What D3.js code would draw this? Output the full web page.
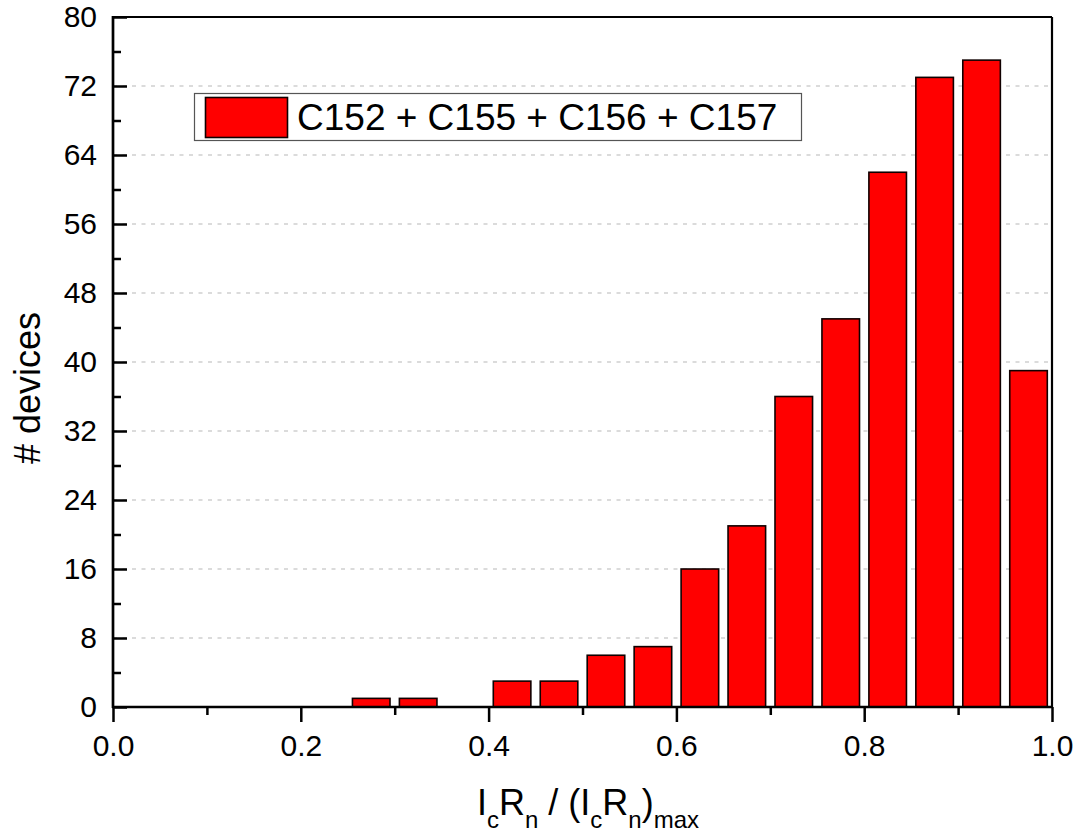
<!DOCTYPE html>
<html>
<head>
<meta charset="utf-8">
<script src="https://cdn.jsdelivr.net/npm/d3@7"></script>
<style>
  html, body { margin: 0; padding: 0; background: #fff; }
  svg { display: block; }
  text { font-family: "Liberation Sans", Arial, sans-serif; fill: #000; }
</style>
</head>
<body>
<svg id="chart" width="1078" height="834"></svg>
<script>
// Histogram bins (lower edges) and device counts per bin
const binWidth = 0.05;
const binLower = [0.00, 0.05, 0.10, 0.15, 0.20, 0.25, 0.30, 0.35, 0.40, 0.45,
                  0.50, 0.55, 0.60, 0.65, 0.70, 0.75, 0.80, 0.85, 0.90, 0.95];
const counts   = [0, 0, 0, 0, 0, 1, 1, 0, 3, 3,
                  6, 7, 16, 21, 36, 45, 62, 73, 75, 39];
const xMajorTicks = [0.0, 0.2, 0.4, 0.6, 0.8, 1.0];
const xMinorTicks = [0.1, 0.3, 0.5, 0.7, 0.9];
const yMajorTicks = [0, 8, 16, 24, 32, 40, 48, 56, 64, 72, 80];
const yMinorTicks = [4, 12, 20, 28, 36, 44, 52, 60, 68, 76];
const seriesName = "C152 + C155 + C156 + C157";

const svg = d3.select("#chart");
const plotL = 113, plotR = 1052, plotT = 17, plotB = 707;

const x = d3.scaleLinear().domain([0, 1]).range([plotL, plotR]);
const y = d3.scaleLinear().domain([0, 80]).range([plotB, plotT]);

// dashed horizontal grid
svg.append("g").selectAll("line")
  .data(yMajorTicks.filter(v => v > 0 && v < 80))
  .join("line")
  .attr("x1", plotL).attr("x2", plotR)
  .attr("y1", d => y(d)).attr("y2", d => y(d))
  .attr("stroke", "#cfcfcf").attr("stroke-width", 1.3)
  .attr("stroke-dasharray", "4,5.5");

// bars
const bins = binLower.map((lo, i) => ({ lo, n: counts[i] })).filter(d => d.n > 0);
svg.append("g").selectAll("rect")
  .data(bins)
  .join("rect")
  .attr("x", d => x(d.lo + binWidth * 0.1))
  .attr("width", d => x(d.lo + binWidth * 0.9) - x(d.lo + binWidth * 0.1))
  .attr("y", d => y(d.n))
  .attr("height", d => y(0) - y(d.n))
  .attr("fill", "#ff0000")
  .attr("stroke", "#100000").attr("stroke-width", 1.6);

// axes
const tickFont = g => g.selectAll("text").style("font-size", "30px")
  .style("font-family", '"Liberation Sans", Arial, sans-serif').attr("fill", "#000");
const tickLines = (g, w) => g.selectAll("line").attr("stroke", "#000").attr("stroke-width", w);

const xAxis = svg.append("g").attr("transform", `translate(0,${plotB})`)
  .call(d3.axisBottom(x).tickValues(xMajorTicks).tickFormat(d3.format(".1f"))
    .tickSize(15).tickSizeOuter(0).tickPadding(13));
xAxis.select(".domain").remove();
xAxis.call(tickFont).call(g => tickLines(g, 2.5));

const xAxisMinor = svg.append("g").attr("transform", `translate(0,${plotB})`)
  .call(d3.axisBottom(x).tickValues(xMinorTicks).tickFormat("").tickSize(8).tickSizeOuter(0));
xAxisMinor.select(".domain").remove();
xAxisMinor.call(g => tickLines(g, 2.5));

const yAxis = svg.append("g").attr("transform", `translate(${plotL},0)`)
  .call(d3.axisLeft(y).tickValues(yMajorTicks).tickSize(-14).tickSizeOuter(0).tickPadding(16));
yAxis.select(".domain").remove();
yAxis.call(tickFont).call(g => tickLines(g, 2.5));

const yAxisMinor = svg.append("g").attr("transform", `translate(${plotL},0)`)
  .call(d3.axisLeft(y).tickValues(yMinorTicks).tickFormat("").tickSize(-8).tickSizeOuter(0));
yAxisMinor.select(".domain").remove();
yAxisMinor.call(g => tickLines(g, 2.5));

// frame
const frame = svg.append("g").attr("stroke", "#000").attr("fill", "none");
frame.append("line").attr("x1", plotL).attr("x2", plotR).attr("y1", plotT).attr("y2", plotT).attr("stroke-width", 2.2);
frame.append("line").attr("x1", plotR).attr("x2", plotR).attr("y1", plotT).attr("y2", plotB).attr("stroke-width", 2.2);
frame.append("line").attr("x1", plotL).attr("x2", plotL).attr("y1", plotT - 1).attr("y2", plotB + 1).attr("stroke-width", 2.7);
frame.append("line").attr("x1", plotL - 1).attr("x2", plotR + 1).attr("y1", plotB).attr("y2", plotB).attr("stroke-width", 2.7);

// legend
const legend = svg.append("g");
legend.append("rect").attr("x", 194.5).attr("y", 93.5).attr("width", 607).attr("height", 47)
  .attr("fill", "#fff").attr("stroke", "#555").attr("stroke-width", 1.2);
legend.append("rect").attr("x", 205.5).attr("y", 97.5).attr("width", 82).attr("height", 40)
  .attr("fill", "#ff0000").attr("stroke", "#100000").attr("stroke-width", 1.6);
legend.append("text").attr("x", 297).attr("y", 130)
  .style("font-size", "37px").text(seriesName);

// axis titles
svg.append("text")
  .attr("transform", "translate(40,388) rotate(-90)")
  .attr("text-anchor", "middle")
  .style("font-size", "36px")
  .text("# devices");

const xt = svg.append("text").attr("x", 588).attr("y", 815)
  .attr("text-anchor", "middle").style("font-size", "36px");
const parts = [["I", 0], ["c", 1], ["R", 0], ["n", 1], [" / (I", 0], ["c", 1], ["R", 0], ["n", 1], [")", 0], ["max", 1]];
let prevSub = 0;
parts.forEach(([t, sub]) => {
  const ts = xt.append("tspan").text(t);
  if (sub) ts.style("font-size", "24px");
  const dy = (sub - prevSub) * 13;
  if (dy !== 0) ts.attr("dy", dy);
  prevSub = sub;
});
</script>
</body>
</html>
